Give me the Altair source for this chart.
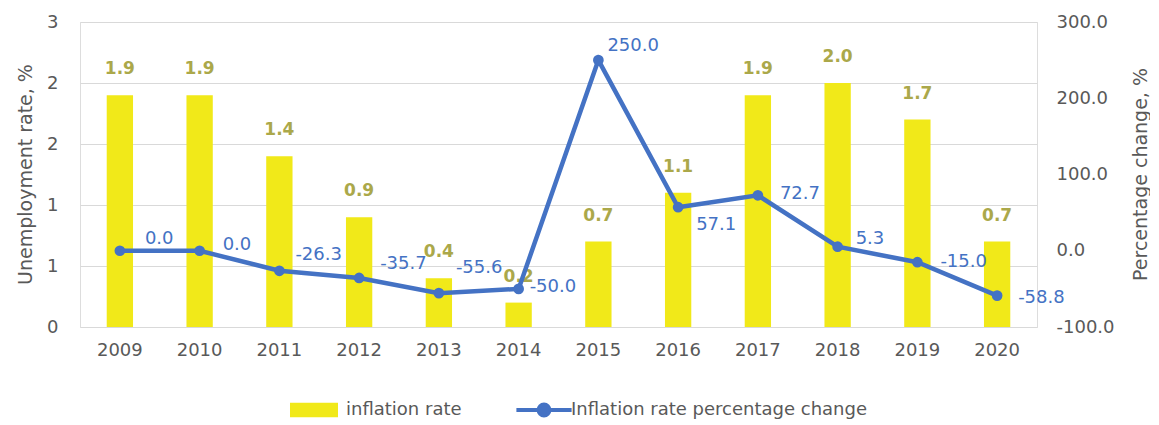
import altair as alt
import pandas as pd

years = ["2009", "2010", "2011", "2012", "2013", "2014", "2015", "2016", "2017", "2018", "2019", "2020"]
inflation = [1.9, 1.9, 1.4, 0.9, 0.4, 0.2, 0.7, 1.1, 1.9, 2.0, 1.7, 0.7]
pct_change = [0.0, 0.0, -26.3, -35.7, -55.6, -50.0, 250.0, 57.1, 72.7, 5.3, -15.0, -58.8]
left_ticks = [0, 0.5, 1.0, 1.5, 2.0, 2.5]
right_ticks = [-100, -50, 0, 50, 100, 150, 200, 250, 300]

# label placement (pixels), as positioned in the original chart
line_label_dx = [25, 23, 16, 21, 17, 11, 9, 18, 22, 18, 23, 21]
line_label_dy = [-12, -6, -16, -14, -25, -2, -14, 18, -1, -8, 0, 2]

bar_name = "inflation rate"
line_name = "Inflation rate percentage change"

W, H = 957, 305
Y2_DOMAIN = [-100, 300]

df = pd.DataFrame({
    "year": years,
    "idx": list(range(len(years))),
    "inflation": inflation,
    "change": pct_change,
    "bar_label": [f"{v:.1f}" for v in inflation],
    "line_label": [f"{v:.1f}" for v in pct_change],
    "ldx": line_label_dx,
    "ldy": line_label_dy,
    "s1": [bar_name] * len(years),
    "s2": [line_name] * len(years),
})

FONT = "DejaVu Sans"
GRAY = "#595959"
YELLOW = "#F1E919"
OLIVE = "#ABA84A"
BLUE = "#4472C4"

x_enc = alt.X(
    "year:O",
    title=None,
    scale=alt.Scale(paddingInner=0.67, paddingOuter=0.335),
    axis=alt.Axis(labelAngle=0, ticks=False, domain=False, labelPadding=14,
                  labelFontSize=18, labelColor=GRAY, labelFont=FONT, grid=False),
)

y_left = alt.Y(
    "inflation:Q",
    scale=alt.Scale(domain=[0, 2.5], nice=False),
    axis=alt.Axis(
        title="Unemployment  rate, %",
        values=left_ticks,
        labelExpr="format(round(datum.value), 'd')",
        labelOverlap=False,
        ticks=False, domain=False, grid=True, gridColor="#D9D9D9", gridWidth=1,
        labelPadding=22, labelFontSize=18, labelColor=GRAY, labelFont=FONT,
        titleFontSize=19, titleFont=FONT, titleColor=GRAY, titleFontWeight="normal",
        titleAngle=270, titleX=-55, titleY=152, titleAlign="center", titleBaseline="middle",
    ),
)

bars = alt.Chart(df).mark_bar().encode(
    x=x_enc,
    y=y_left,
    fill=alt.Fill("s1:N", scale=alt.Scale(range=[YELLOW]),
                  legend=alt.Legend(title=None, orient="none", legendX=225, legendY=379,
                                    symbolType="M-4,-1.2H4V1.2H-4Z", symbolSize=144,
                                    symbolStrokeWidth=0, labelOffset=23, labelLimit=0,
                                    labelFontSize=18, labelColor=GRAY, labelFont=FONT)),
)

bar_text = alt.Chart(df).mark_text(
    dy=-26, baseline="middle", align="center", fontWeight="bold",
    fontSize=17, font=FONT, color=OLIVE,
).encode(x=x_enc, y=alt.Y("inflation:Q"), text="bar_label:N")

left_layer = alt.layer(bars, bar_text)

y_right = alt.Y(
    "change:Q",
    scale=alt.Scale(domain=Y2_DOMAIN, nice=False),
    axis=alt.Axis(
        orient="right",
        title="Percentage change, %",
        values=right_ticks,
        labelExpr="(datum.value < 0 ? '-' : '') + format(abs(datum.value), '.1f')",
        labelOverlap=False,
        ticks=False, domain=False, grid=False,
        labelPadding=19, labelFontSize=18, labelColor=GRAY, labelFont=FONT,
        titleFontSize=19, titleFont=FONT, titleColor=GRAY, titleFontWeight="normal",
        titleAngle=270, titleX=103, titleY=152, titleAlign="center", titleBaseline="middle",
    ),
)

line = alt.Chart(df).mark_line(strokeWidth=4.5).encode(
    x=x_enc,
    y=y_right,
    stroke=alt.Stroke("s2:N", scale=alt.Scale(range=[BLUE]),
                      legend=alt.Legend(title=None, orient="none", legendX=455, legendY=379,
                                        symbolType="M-4.6,0H4.6M-0.9,0A0.9,0.9 0 1,0 0.9,0A0.9,0.9 0 1,0 -0.9,0",
                                        symbolSize=144, symbolStrokeWidth=4,
                                        symbolFillColor=BLUE, labelOffset=18, labelLimit=0,
                                        labelFontSize=18, labelColor=GRAY, labelFont=FONT)),
)

points = alt.Chart(df).mark_point(filled=True, size=115, color=BLUE, opacity=1).encode(
    x=x_enc, y=alt.Y("change:Q"),
)

right_layer = alt.layer(line, points)

base = alt.layer(left_layer, right_layer).resolve_scale(
    y="independent", fill="independent", stroke="independent"
)

# line value labels: placed on index/value scales aligned with the plot, shifted by pixel offsets
n = len(years)
step = W / n
ppu = H / (Y2_DOMAIN[1] - Y2_DOMAIN[0])
line_text = alt.Chart(df).transform_calculate(
    lx=f"datum.idx + datum.ldx / {step}",
    ly=f"datum.change - datum.ldy / {ppu}",
).mark_text(
    align="left", baseline="middle", fontSize=18, font=FONT, color=BLUE,
).encode(
    x=alt.X("lx:Q", scale=alt.Scale(domain=[-0.5, n - 0.5], nice=False, zero=False), axis=None),
    y=alt.Y("ly:Q", scale=alt.Scale(domain=Y2_DOMAIN, nice=False, zero=False), axis=None),
    text="line_label:N",
)

chart = alt.layer(base, line_text).resolve_scale(
    x="independent", y="independent"
).properties(
    width=W, height=H,
    padding={"left": 8, "top": 5, "right": 0, "bottom": 5},
).configure_view(stroke=None).configure(background="white")

chart.save("out.html", embed_options={"renderer": "svg", "actions": False})
